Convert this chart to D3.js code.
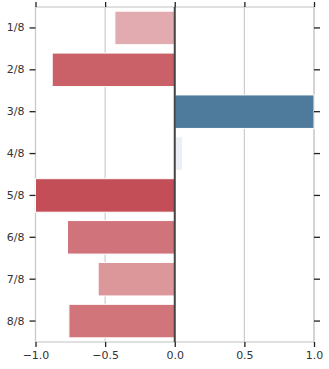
<!DOCTYPE html>
<html>
<head>
<meta charset="utf-8">
<script src="https://cdn.jsdelivr.net/npm/d3@7"></script>
<style>
  body { margin: 0; background: #fff; }
  text { font-family: "DejaVu Sans", sans-serif; }
</style>
</head>
<body>
<div id="chart"></div>
<script>
// data
var categories = ["1/8", "2/8", "3/8", "4/8", "5/8", "6/8", "7/8", "8/8"];
var values = [-0.43, -0.88, 1.0, 0.055, -1.0, -0.77, -0.55, -0.76];
var xTicks = [-1, -0.5, 0, 0.5, 1];

var width = 329, height = 369;
var margin = {top: 7, right: 15, bottom: 27, left: 35};

var svg = d3.select("#chart").append("svg")
    .attr("width", width)
    .attr("height", height);

var x = d3.scaleLinear()
    .domain([-1, 1])
    .range([margin.left + 0.5, width - margin.right]);

var y = d3.scaleBand()
    .domain(categories)
    .range([margin.top, height - margin.bottom])
    .paddingInner(0.2)
    .paddingOuter(0.1);

// diverging colours, red for negative, blue for positive
var color = d3.scaleLinear()
    .domain([-1, -0.5, 0, 1])
    .range(["#c44e57", "#df9fa3", "#f2f6f9", "#4e7b9b"]);

var fmt = function(d) { return d3.format(".1f")(d).replace("-", "\u2212"); };

// grid lines
svg.append("g").selectAll("line")
    .data(xTicks)
    .enter().append("line")
    .attr("x1", function(d) { return x(d); })
    .attr("x2", function(d) { return x(d); })
    .attr("y1", margin.top)
    .attr("y2", height - margin.bottom)
    .attr("stroke", "#cccccc")
    .attr("stroke-width", 1.2);

// frame
svg.append("rect")
    .attr("x", x(-1))
    .attr("y", margin.top)
    .attr("width", x(1) - x(-1))
    .attr("height", height - margin.bottom - margin.top)
    .attr("fill", "none")
    .attr("stroke", "#cccccc")
    .attr("stroke-width", 1.2);

// bars
svg.append("g").selectAll("rect")
    .data(values)
    .enter().append("rect")
    .attr("x", function(d) { return x(Math.min(0, d)); })
    .attr("y", function(d, i) { return y(categories[i]); })
    .attr("width", function(d) { return Math.abs(x(d) - x(0)); })
    .attr("height", y.bandwidth())
    .attr("fill", function(d) { return color(d); })
    .attr("stroke", "#fff")
    .attr("stroke-width", 1);

// zero line
svg.append("line")
    .attr("x1", x(0)).attr("x2", x(0))
    .attr("y1", margin.top).attr("y2", height - margin.bottom)
    .attr("stroke", "#444")
    .attr("stroke-width", 2);

// axes
function styleAxis(g) {
    g.select(".domain").remove();
    g.selectAll(".tick line").attr("stroke", "#222").attr("stroke-width", 1.3);
    g.selectAll(".tick text").attr("fill", "#333").attr("font-size", 11);
}

svg.append("g")
    .attr("transform", "translate(0," + (height - margin.bottom) + ")")
    .call(d3.axisBottom(x).tickValues(xTicks).tickSize(5).tickPadding(4).tickFormat(fmt))
    .call(styleAxis)
    .selectAll(".tick text").attr("font-family", "DejaVu Sans");

svg.append("g")
    .attr("transform", "translate(0," + margin.top + ")")
    .call(d3.axisTop(x).tickValues(xTicks).tickSize(5).tickFormat(""))
    .call(styleAxis);

svg.append("g")
    .attr("transform", "translate(" + x(-1) + ",0)")
    .call(d3.axisLeft(y).tickSize(6).tickPadding(5))
    .call(styleAxis);

svg.append("g")
    .attr("transform", "translate(" + x(1) + ",0)")
    .call(d3.axisRight(y).tickSize(6).tickFormat(""))
    .call(styleAxis);
</script>
</body>
</html>
